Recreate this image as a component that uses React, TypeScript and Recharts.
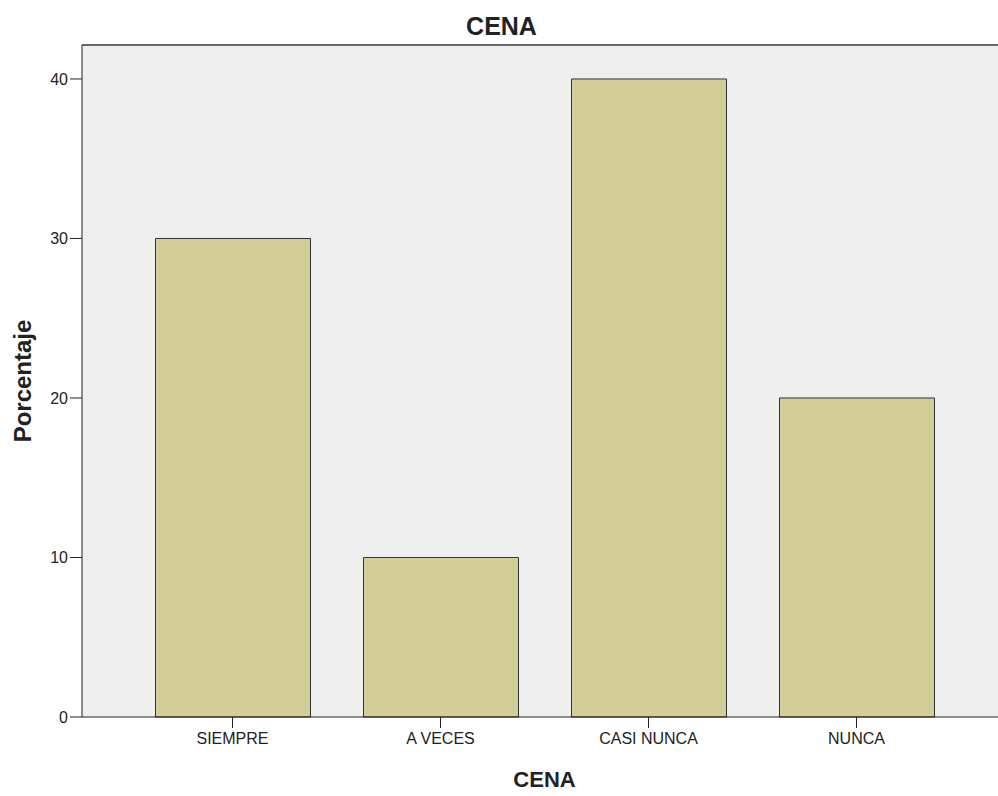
import { BarChart, Bar, XAxis, YAxis, CartesianGrid, ReferenceLine } from 'recharts'

const categories = ['SIEMPRE', 'A VECES', 'CASI NUNCA', 'NUNCA']
const percentages = [30, 10, 40, 20]
const yTicks = [0, 10, 20, 30, 40]
const Y_MAX = 42.13

const FONT = '"Liberation Sans", Arial, sans-serif'
const INK = '#222'

const data = categories.map((c, i) => ({ name: c, value: percentages[i] }))

export default function App() {
  return (
    <div style={{ position: 'fixed', left: 0, top: 0, width: 998, height: 796, overflow: 'hidden', background: '#fff', fontFamily: FONT }}>
      <svg width={998} height={45} style={{ position: 'absolute', left: 0, top: 0 }}>
        <text x={501.5} y={35} textAnchor="middle" fontSize={25} fontWeight="bold" fill={INK} fontFamily={FONT}>
          CENA
        </text>
      </svg>
      <BarChart
        width={1010}
        height={796}
        data={data}
        margin={{ top: 45, right: 3, left: 0, bottom: 49 }}
        barSize={155}
      >
        <CartesianGrid fill="#EFEFEF" horizontal={false} vertical={false} />
        <ReferenceLine y={Y_MAX} stroke="#666" strokeWidth={2} ifOverflow="extendDomain" />
        <XAxis
          dataKey="name"
          height={30}
          padding={{ left: 46.5, right: 46.5 }}
          stroke="#222"
          tickLine={{ stroke: '#222' }}
          tickSize={11}
          tickMargin={5}
          tick={{ fontSize: 16, fill: INK, fontFamily: FONT }}
          label={{ value: 'CENA', position: 'insideBottom', offset: -40, fontSize: 22, fontWeight: 'bold', fill: INK, fontFamily: FONT }}
        />
        <YAxis
          width={82}
          domain={[0, Y_MAX]}
          ticks={yTicks}
          stroke="#222"
          tickLine={{ stroke: '#222' }}
          tickSize={12}
          tickMargin={2}
          tick={{ fontSize: 16, fill: INK, fontFamily: FONT }}
          label={{ value: 'Porcentaje', angle: -90, position: 'insideLeft', offset: 22, fontSize: 24, fontWeight: 'bold', fill: INK, fontFamily: FONT, style: { textAnchor: 'middle' } }}
        />
        <Bar dataKey="value" fill="#D3CE98" stroke="#333" strokeWidth={1} isAnimationActive={false} />
      </BarChart>
    </div>
  )
}
